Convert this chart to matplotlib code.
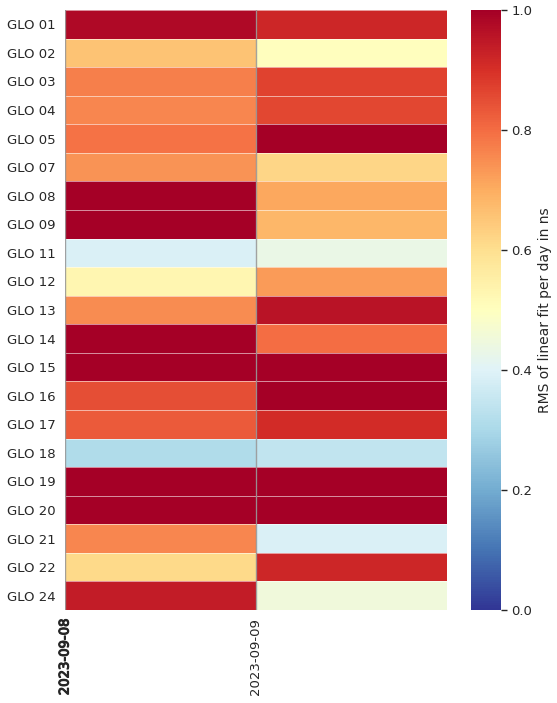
import matplotlib

matplotlib.use("Agg")
import matplotlib.patheffects as pe
import matplotlib.pyplot as plt
import numpy as np

satellites = [
    "GLO 01", "GLO 02", "GLO 03", "GLO 04", "GLO 05", "GLO 07", "GLO 08",
    "GLO 09", "GLO 11", "GLO 12", "GLO 13", "GLO 14", "GLO 15", "GLO 16",
    "GLO 17", "GLO 18", "GLO 19", "GLO 20", "GLO 21", "GLO 22", "GLO 24",
]
days = ["2023-09-08", "2023-09-09"]

rms_day1 = [
    0.98, 0.66, 0.77, 0.76, 0.79, 0.74, 1.00,
    1.00, 0.39, 0.53, 0.75, 1.00, 1.00, 0.85,
    0.83, 0.31, 1.00, 1.00, 0.76, 0.61, 0.94,
]
rms_day2 = [
    0.92, 0.50, 0.87, 0.86, 1.00, 0.62, 0.71,
    0.68, 0.43, 0.73, 0.96, 0.80, 1.00, 1.00,
    0.91, 0.34, 1.00, 1.00, 0.39, 0.92, 0.45,
]

data = np.column_stack([rms_day1, rms_day2])
text_color = "#262626"

fig = plt.figure(figsize=(5.57, 7.03), dpi=100)
ax = fig.add_axes([0.1167, 0.1323, 0.6858, 0.8535])
cax = fig.add_axes([0.8456, 0.1323, 0.0539, 0.8535])

mesh = ax.pcolormesh(
    np.arange(len(days) + 1), np.arange(len(satellites) + 1), data,
    cmap="RdYlBu_r", vmin=0, vmax=1,
    edgecolors=(1, 1, 1, 0.55), linewidth=0.6,
)
ax.set_xlim(0, len(days))
ax.set_ylim(len(satellites), 0)

ax.set_yticks(np.arange(len(satellites)) + 0.5)
ax.set_yticklabels(satellites, fontsize=9.5, color=text_color)
ax.set_xticks(np.arange(len(days)))
ax.set_xticklabels(days, rotation=90, fontsize=9.5, color=text_color)
# first date label is overprinted in the original, so it looks heavier
ax.get_xticklabels()[0].set_path_effects(
    [pe.withStroke(linewidth=0.8, foreground=text_color)]
)
ax.tick_params(length=0, pad=6)
ax.tick_params(axis="y", pad=7)
for x in range(len(days)):
    ax.axvline(x, color="#8c8c8c", linewidth=1.0, alpha=0.8)
for s in ax.spines.values():
    s.set_visible(False)

cb = fig.colorbar(mesh, cax=cax)
cb.outline.set_linewidth(0)
cb.set_ticks([0, 0.2, 0.4, 0.6, 0.8, 1.0])
cb.ax.tick_params(labelsize=9.5, colors=text_color, length=4, width=1)
cb.set_label("RMS of linear fit per day in ns", fontsize=10, color=text_color)

fig.savefig("out.png", dpi=100)
